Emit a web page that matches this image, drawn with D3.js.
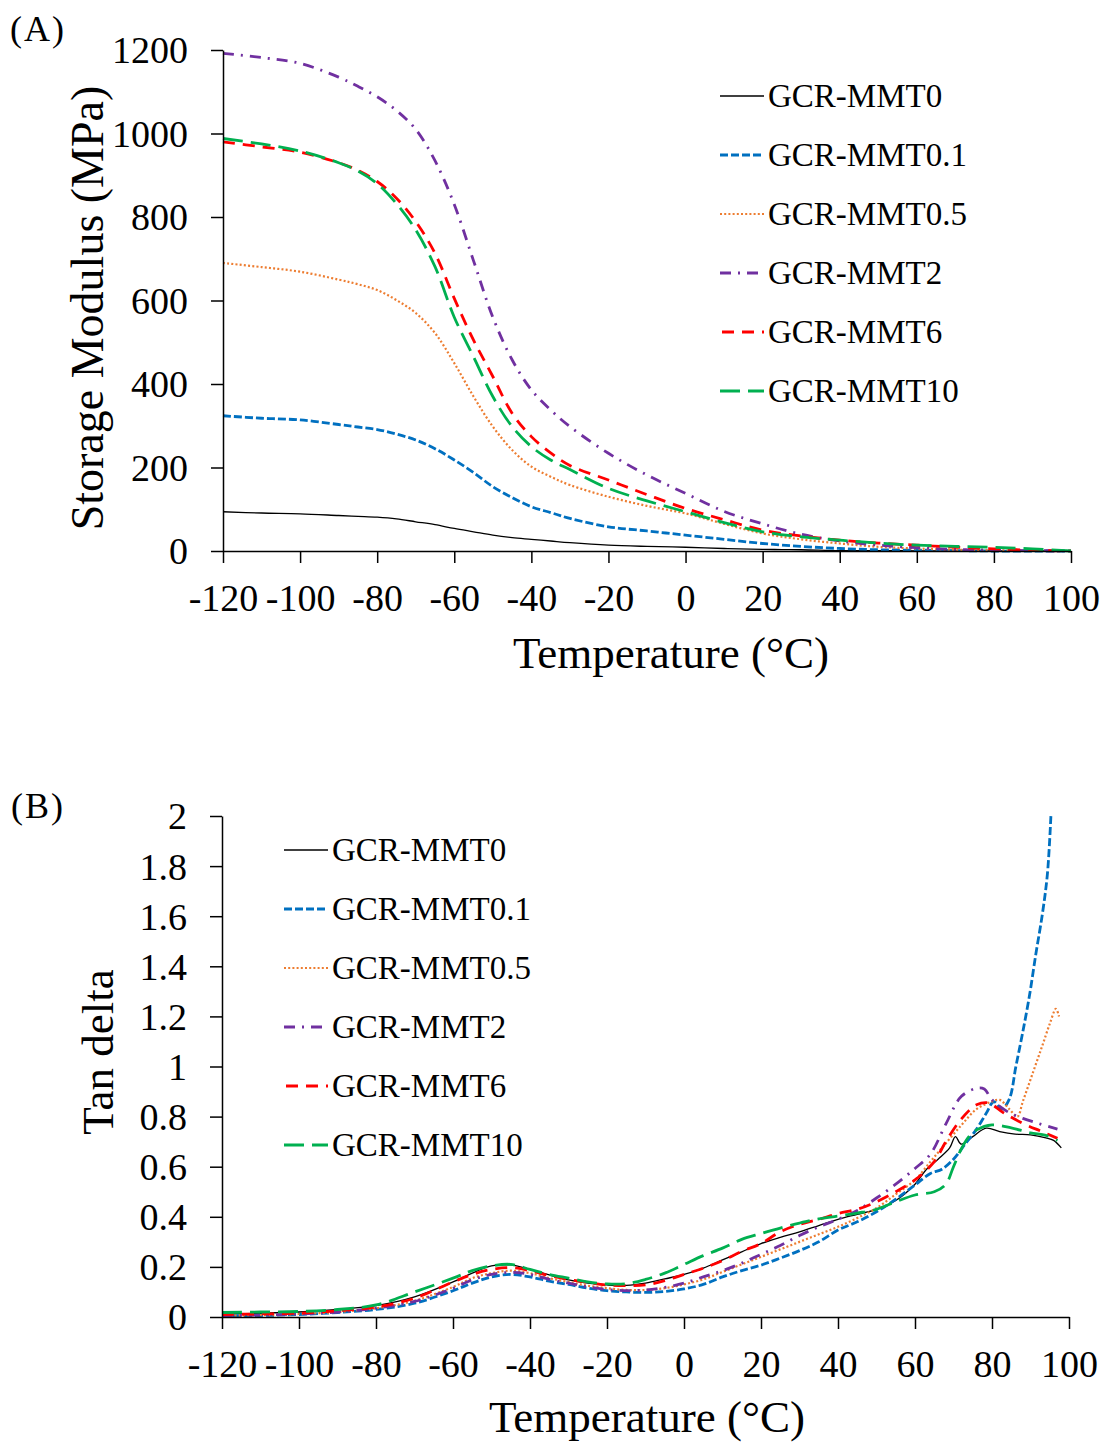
<!DOCTYPE html>
<html>
<head>
<meta charset="utf-8">
<script src="https://cdn.jsdelivr.net/npm/d3@7"></script>
<style>
	body { margin: 0; background: #fff; }
	svg { display: block; }
</style>
</head>
<body>
<div id="chart"></div>
<script>
// series names, shared by both panels
const names = ["GCR-MMT0", "GCR-MMT0.1", "GCR-MMT0.5", "GCR-MMT2", "GCR-MMT6", "GCR-MMT10"];

// (A) storage modulus, MPa
const tempA = [-120, -110, -100, -90, -85, -80, -75, -70, -65, -60, -55, -50, -45, -40, -35, -30, -20, -10, 0, 10, 20, 30, 40, 50, 60, 70, 80, 90, 100];
const storage0 = [94, 91, 89, 85, 83, 81, 77, 70, 63, 54, 46, 38, 32, 28, 24, 20, 14, 11, 9, 6, 4, 3, 1, 1, 0.5, 0, 0, 0, 0];
const storage01 = [324, 318, 314, 303, 297, 291, 280, 266, 245, 218, 188, 154, 128, 106, 92, 78, 58, 48, 38, 28, 18, 11, 6, 3, 2, 1, 0, 0, 0];
const storage05 = [690, 680, 669, 650, 639, 625, 601, 570, 522, 450, 370, 298, 242, 202, 178, 158, 130, 108, 90, 65, 42, 28, 18, 10, 6, 3, 2, 1, 0];
const storage2 = [1192, 1182, 1168, 1135, 1113, 1088, 1055, 1010, 935, 830, 695, 560, 458, 386, 338, 298, 234, 182, 138, 95, 65, 40, 24, 14, 8, 4, 2, 1, 0];
const storage6 = [980, 968, 955, 930, 912, 885, 845, 789, 713, 605, 505, 418, 330, 274, 235, 205, 170, 135, 102, 75, 50, 36, 26, 19, 14, 9, 5, 2, 0];
const storage10 = [988, 975, 958, 930, 910, 880, 832, 769, 681, 560, 465, 370, 298, 250, 218, 195, 150, 120, 94, 68, 46, 34, 26, 19, 14, 11, 9, 5, 0];

// (B) tan delta
const tempCommonB = [-120, -110, -100, -90, -80, -70, -60, -55, -50, -45, -40, -35, -30, -25, -20, -15, -10, -5, 0, 5, 10, 15, 20, 25, 30, 35, 40, 45, 50, 55, 60];
const tempB0 = tempCommonB.concat([63, 66, 69, 70.5, 72, 75, 78.5, 82, 86, 90, 94, 96, 98]);
const tan0 = [0.012, 0.015, 0.02, 0.03, 0.045, 0.08, 0.14, 0.175, 0.204, 0.208, 0.19, 0.168, 0.148, 0.135, 0.128, 0.126, 0.135, 0.152,
	0.17, 0.195, 0.228, 0.26, 0.293, 0.318, 0.34, 0.365, 0.39, 0.41, 0.43, 0.465, 0.53,
	0.59, 0.63, 0.675, 0.72, 0.69, 0.72, 0.754, 0.74, 0.73, 0.727, 0.715, 0.705, 0.675];
const tempB01 = tempCommonB.concat([64, 67, 70, 73, 76, 78.5, 80.5, 82.5, 84.5, 86.2, 87.9, 89.7, 91.4, 93.1, 94.4, 95.3]);
const tan01 = [0.005, 0.006, 0.01, 0.018, 0.03, 0.055, 0.105, 0.135, 0.16, 0.17, 0.16, 0.143, 0.13, 0.115, 0.105, 0.1, 0.098, 0.102,
	0.112, 0.13, 0.16, 0.185, 0.207, 0.235, 0.265, 0.3, 0.347, 0.38, 0.42, 0.47, 0.527,
	0.573, 0.59, 0.63, 0.69, 0.75, 0.813, 0.86, 0.83, 0.87, 1.0, 1.13, 1.28, 1.45, 1.61, 1.77, 2.0];
const tempB05 = tempCommonB.concat([64, 67, 72, 76, 80, 82, 84.5, 86.6, 88, 90.5, 93, 95, 96.6, 97.4]);
const tan05 = [0.005, 0.008, 0.012, 0.02, 0.035, 0.065, 0.12, 0.155, 0.175, 0.185, 0.175, 0.155, 0.14, 0.125, 0.115, 0.108, 0.108, 0.115,
	0.13, 0.15, 0.18, 0.21, 0.24, 0.27, 0.3, 0.33, 0.36, 0.395, 0.435, 0.49, 0.547,
	0.62, 0.675, 0.765, 0.83, 0.86, 0.867, 0.83, 0.8, 0.86, 0.97, 1.08, 1.17, 1.23, 1.2];
const tempB2 = tempCommonB.concat([64, 68, 72, 76, 78, 80, 84, 88, 92, 97]);
const tan2 = [0.005, 0.008, 0.012, 0.02, 0.035, 0.062, 0.115, 0.148, 0.17, 0.178, 0.17, 0.15, 0.135, 0.12, 0.11, 0.105, 0.108, 0.118,
	0.135, 0.16, 0.185, 0.215, 0.25, 0.285, 0.325, 0.36, 0.39, 0.425, 0.475, 0.53, 0.593,
	0.65, 0.77, 0.88, 0.913, 0.91, 0.867, 0.82, 0.793, 0.773, 0.75];
const tempB6 = tempCommonB.concat([65, 68, 72, 76, 79, 83, 88, 93, 97]);
const tan6 = [0.01, 0.012, 0.015, 0.025, 0.04, 0.075, 0.14, 0.17, 0.19, 0.197, 0.185, 0.165, 0.15, 0.138, 0.128, 0.125, 0.128, 0.145,
	0.17, 0.195, 0.225, 0.262, 0.293, 0.34, 0.37, 0.39, 0.413, 0.43, 0.46, 0.5, 0.547,
	0.62, 0.7, 0.79, 0.847, 0.855, 0.815, 0.773, 0.74, 0.713];
const tempB10 = tempCommonB.concat([65, 68, 70, 72, 74, 76, 80, 85, 90, 94, 97]);
const tan10 = [0.018, 0.02, 0.022, 0.03, 0.048, 0.1, 0.155, 0.185, 0.204, 0.21, 0.19, 0.17, 0.155, 0.14, 0.132, 0.133, 0.15, 0.175,
	0.21, 0.245, 0.275, 0.31, 0.333, 0.355, 0.375, 0.392, 0.403, 0.415, 0.43, 0.46, 0.487,
	0.5, 0.53, 0.6, 0.67, 0.72, 0.747, 0.767, 0.755, 0.735, 0.725, 0.705];

// tick labels
const xTicks = [-120, -100, -80, -60, -40, -20, 0, 20, 40, 60, 80, 100];
const yTicksA = [0, 200, 400, 600, 800, 1000, 1200];
const yTicksB = [0, 0.2, 0.4, 0.6, 0.8, 1, 1.2, 1.4, 1.6, 1.8, 2];

// line looks, same order as names
const colors = ["#000000", "#0070C0", "#ED7D31", "#7030A0", "#FF0000", "#00B050"];
const dashes = [null, "8,3", "2,2.2", "11,7,2,7", "12,8", "20,8"];
const legendOffsets = [0, 0, 0, 0, -2, 0];
const widths = [1.3, 2.8, 2.2, 2.8, 2.8, 2.8];

const font = "'Liberation Serif', 'Times New Roman', serif";
const width = 1110;
const height = 1443;

const svg = d3.select("#chart").append("svg").attr("width", width).attr("height", height)
	.style("font-family", font);
svg.append("rect").attr("width", width).attr("height", height).attr("fill", "#fff");

const drawPanel = (cfg) => {
	const x = d3.scaleLinear().domain([-120, 100]).range(cfg.xRange);
	const y = d3.scaleLinear().domain(cfg.yDomain).range(cfg.yRange);
	const g = svg.append("g");

	const line = d3.line()
		.x((d) => x(d[0]))
		.y((d) => y(d[1]))
		.curve(d3.curveCatmullRom.alpha(0.5));

	cfg.series.forEach((s, i) => {
		const pts = s.t.map((t, j) => [t, s.v[j]]);
		g.append("path")
			.attr("d", line(pts))
			.attr("fill", "none")
			.attr("stroke", colors[i])
			.attr("stroke-width", widths[i])
			.attr("stroke-dasharray", dashes[i]);
	});

	const xAxis = g.append("g")
		.attr("transform", `translate(0,${cfg.yRange[0]})`)
		.call(d3.axisBottom(x).tickValues(xTicks).tickSize(12).tickSizeOuter(0));
	xAxis.selectAll("text").attr("y", 60).attr("dy", 0)
		.attr("font-size", 38).attr("font-family", font).attr("fill", "#000")
		.text((d) => (d < 0 ? "-" + Math.abs(d) : d));

	const yAxis = g.append("g")
		.attr("transform", `translate(${cfg.xRange[0]},0)`)
		.call(d3.axisLeft(y).tickValues(cfg.yTicks).tickSize(12).tickSizeOuter(0).tickFormat(d3.format("~g")));
	yAxis.selectAll("text").attr("x", -35).attr("dy", "0.34em")
		.attr("font-size", 38).attr("font-family", font).attr("fill", "#000");

	g.selectAll(".domain, .tick line").attr("stroke", "#000").attr("stroke-width", 1.5);

	g.append("text")
		.attr("x", cfg.xTitle[0]).attr("y", cfg.xTitle[1])
		.attr("text-anchor", "middle").attr("font-size", 45)
		.text("Temperature (°C)");

	g.append("text")
		.attr("transform", `translate(${cfg.yTitle[0]},${cfg.yTitle[1]}) rotate(-90)`)
		.attr("text-anchor", "middle").attr("font-size", cfg.yTitleSize)
		.text(cfg.yLabel);

	g.append("text")
		.attr("x", cfg.tag[0]).attr("y", cfg.tag[1])
		.attr("font-size", 36).attr("letter-spacing", 2)
		.text(cfg.tagText);

	const leg = g.append("g");
	names.forEach((n, i) => {
		const ly = cfg.legend[1] + i * 59;
		leg.append("line")
			.attr("x1", cfg.legend[0]).attr("x2", cfg.legend[0] + 44)
			.attr("y1", ly).attr("y2", ly)
			.attr("stroke", colors[i])
			.attr("stroke-width", widths[i])
			.attr("stroke-dasharray", dashes[i])
			.attr("stroke-dashoffset", legendOffsets[i]);
		leg.append("text")
			.attr("x", cfg.legend[0] + 48).attr("y", ly)
			.attr("dy", "0.34em").attr("font-size", 33)
			.text(n);
	});
};

drawPanel({
	xRange: [223, 1071],
	yDomain: [0, 1200],
	yRange: [551, 50],
	yTicks: yTicksA,
	series: [
		{ t: tempA, v: storage0 },
		{ t: tempA, v: storage01 },
		{ t: tempA, v: storage05 },
		{ t: tempA, v: storage2 },
		{ t: tempA, v: storage6 },
		{ t: tempA, v: storage10 }
	],
	xTitle: [671, 668],
	yTitle: [103, 308],
	yTitleSize: 46,
	yLabel: "Storage Modulus (MPa)",
	tag: [10, 41],
	tagText: "(A)",
	legend: [720, 96]
});

drawPanel({
	xRange: [222, 1069],
	yDomain: [0, 2],
	yRange: [1317, 816],
	yTicks: yTicksB,
	series: [
		{ t: tempB0, v: tan0 },
		{ t: tempB01, v: tan01 },
		{ t: tempB05, v: tan05 },
		{ t: tempB2, v: tan2 },
		{ t: tempB6, v: tan6 },
		{ t: tempB10, v: tan10 }
	],
	xTitle: [647, 1432],
	yTitle: [113, 1052],
	yTitleSize: 45,
	yLabel: "Tan delta",
	tag: [11, 818],
	tagText: "(B)",
	legend: [284, 850]
});
</script>
</body>
</html>
